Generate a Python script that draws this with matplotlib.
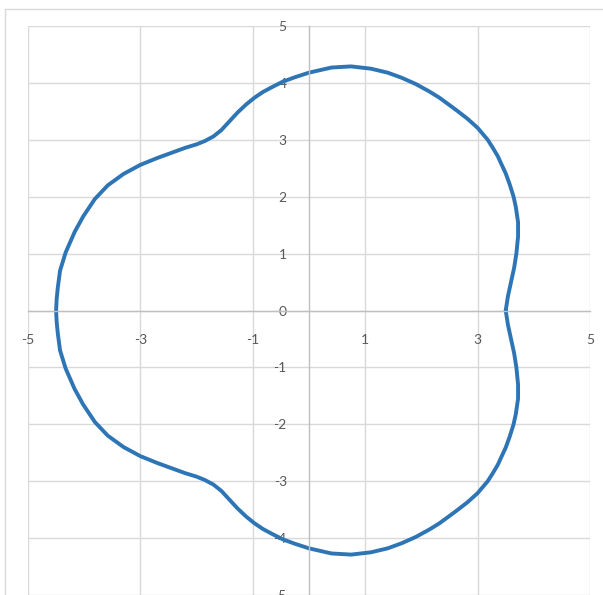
import matplotlib.pyplot as plt
from matplotlib.patches import Rectangle

# curve points, upper half (right -> left)
x_up = [3.50, 3.54, 3.59, 3.65, 3.69, 3.72, 3.72, 3.68, 3.64, 3.57,
        3.50, 3.42, 3.36, 3.27, 3.18, 3.00, 2.82, 2.65, 2.50, 2.32,
        2.14, 1.90, 1.65, 1.40, 1.10, 0.75, 0.40, 0.00, -0.25, -0.47,
        -0.65, -0.82, -0.97, -1.12, -1.27, -1.42, -1.56, -1.70, -1.85, -2.00,
        -2.20, -2.45, -2.70, -3.00, -3.30, -3.58, -3.81, -4.02, -4.17, -4.33,
        -4.43, -4.47, -4.49, -4.50]
y_up = [0.00, 0.25, 0.48, 0.75, 1.00, 1.30, 1.55, 1.82, 2.00, 2.22,
        2.41, 2.58, 2.71, 2.86, 3.00, 3.21, 3.37, 3.50, 3.61, 3.74,
        3.85, 3.98, 4.09, 4.18, 4.25, 4.29, 4.27, 4.18, 4.10, 4.02,
        3.93, 3.84, 3.74, 3.62, 3.48, 3.32, 3.17, 3.06, 2.98, 2.92,
        2.86, 2.77, 2.68, 2.56, 2.40, 2.20, 1.96, 1.65, 1.38, 1.02,
        0.70, 0.40, 0.20, 0.00]

# lower half (left -> right)
x_low = [-4.49, -4.47, -4.43, -4.33, -4.17, -4.02, -3.81, -3.58, -3.30, -3.00,
         -2.70, -2.45, -2.20, -2.00, -1.85, -1.70, -1.56, -1.42, -1.27, -1.12,
         -0.97, -0.82, -0.65, -0.47, -0.25, 0.00, 0.40, 0.75, 1.10, 1.40,
         1.65, 1.90, 2.14, 2.32, 2.50, 2.65, 2.82, 3.00, 3.18, 3.27,
         3.36, 3.42, 3.50, 3.57, 3.64, 3.68, 3.72, 3.72, 3.69, 3.65,
         3.59, 3.54, 3.50]
y_low = [-0.20, -0.40, -0.70, -1.02, -1.38, -1.65, -1.96, -2.20, -2.40, -2.56,
         -2.68, -2.77, -2.86, -2.92, -2.98, -3.06, -3.17, -3.32, -3.48, -3.62,
         -3.74, -3.84, -3.93, -4.02, -4.10, -4.18, -4.27, -4.29, -4.25, -4.18,
         -4.09, -3.98, -3.85, -3.74, -3.61, -3.50, -3.37, -3.21, -3.00, -2.86,
         -2.71, -2.58, -2.41, -2.22, -2.00, -1.82, -1.55, -1.30, -1.00, -0.75,
         -0.48, -0.25, 0.00]

x_ticks = [-5, -3, -1, 1, 3, 5]
y_ticks = [-5, -4, -3, -2, -1, 0, 1, 2, 3, 4, 5]

plt.rcParams['font.family'] = ['Lato', 'DejaVu Sans']

fig = plt.figure(figsize=(6.03, 5.95), dpi=100)
fig.patches.append(Rectangle((5.3 / 603, -0.2), 2, 1.2 - 8.7 / 595, transform=fig.transFigure,
                             fill=False, edgecolor='#d9d9d9', linewidth=1.0, zorder=0))

ax = fig.add_axes([28 / 603, 0.0, 562 / 603, 569 / 595])
ax.plot(x_up + x_low, y_up + y_low, color='#2e75b6', linewidth=2.8,
        solid_joinstyle='round', solid_capstyle='round')

ax.set_xlim(-5, 5)
ax.set_ylim(-5, 5)
ax.set_xticks(x_ticks)
ax.set_yticks(y_ticks)
ax.set_xticklabels([str(v) for v in x_ticks])
ax.set_yticklabels([str(v) for v in y_ticks])
ax.grid(True, color='#d9d9d9', linewidth=1.0)
ax.set_axisbelow('line')

ax.spines['left'].set_position(('data', 0))
ax.spines['bottom'].set_position(('data', 0))
ax.spines['top'].set_visible(False)
ax.spines['right'].set_visible(False)
for s in ['left', 'bottom']:
    ax.spines[s].set_color('#bfbfbf')
    ax.spines[s].set_linewidth(1.0)

ax.tick_params(axis='both', length=0, labelsize=10, labelcolor='#595959')
ax.tick_params(axis='y', pad=16)
ax.tick_params(axis='x', pad=17)
ax.patch.set_alpha(0)

fig.savefig('out.png', dpi=100)
